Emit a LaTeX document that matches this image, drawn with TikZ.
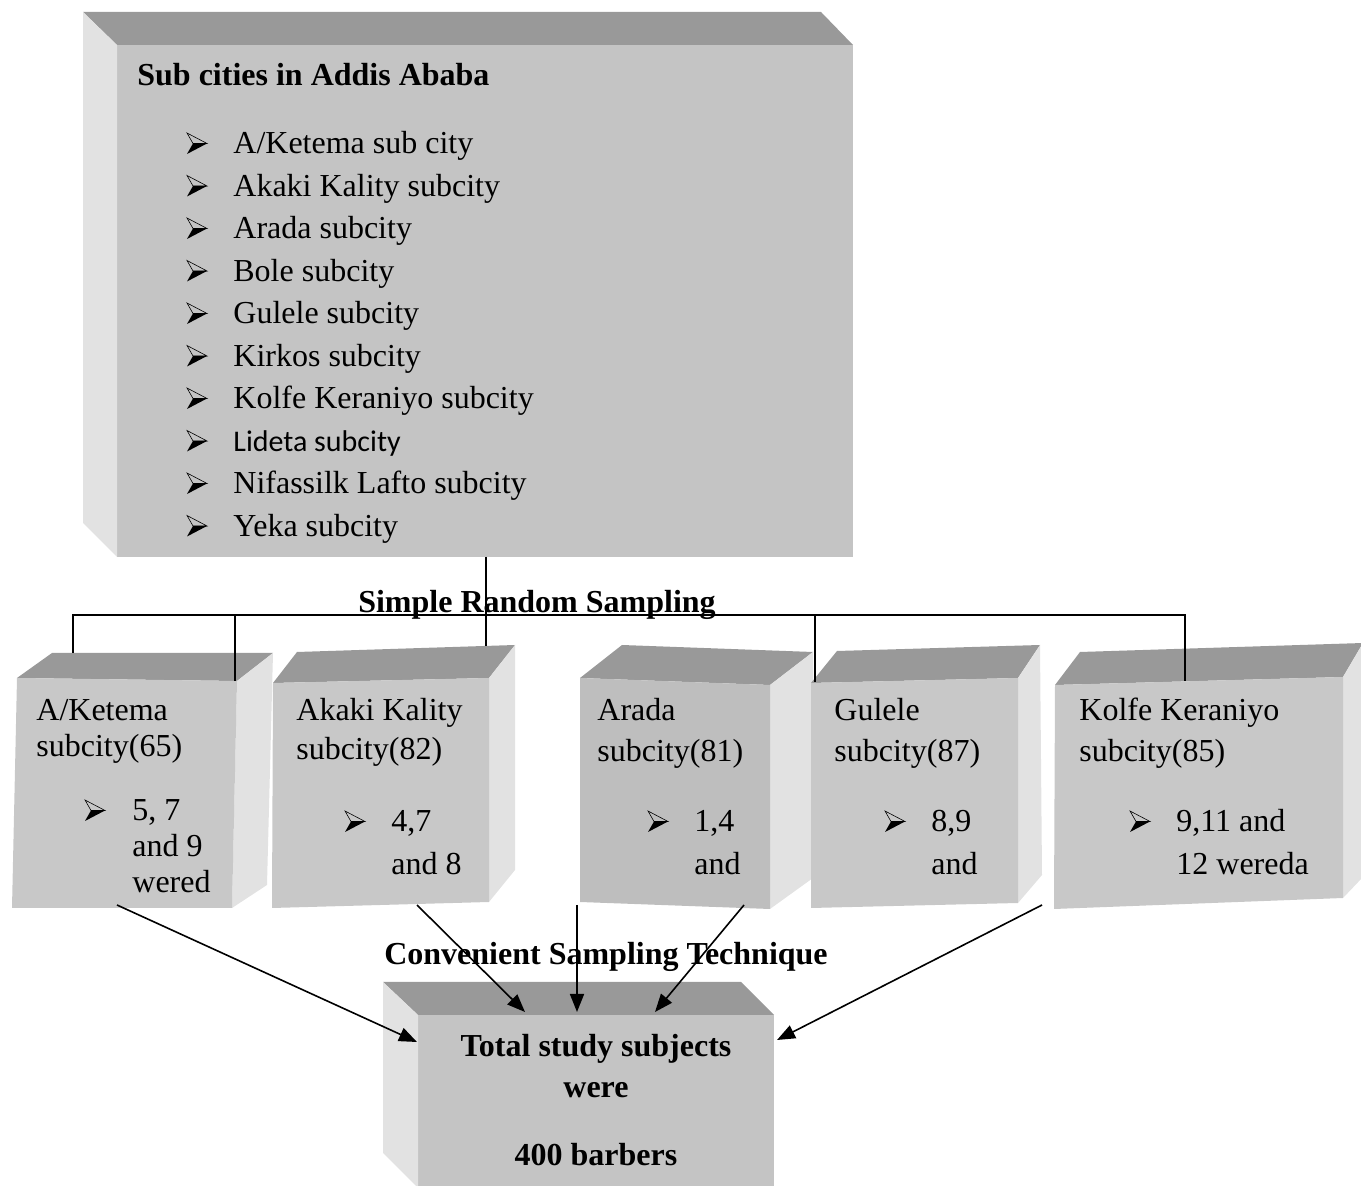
\documentclass[tikz,border=0pt]{standalone}
\usepackage{fontspec}
\setmainfont{Liberation Serif}
\newfontfamily\lidfont{Carlito}
\usetikzlibrary{arrows.meta}

\definecolor{bevtop}{HTML}{999999}
\definecolor{bevside}{HTML}{E2E2E2}
\definecolor{facegray}{HTML}{C4C4C4}
\definecolor{facelt}{HTML}{C8C8C8}
\definecolor{facedk}{HTML}{BEBEBE}

% small sampled box, bevel to the right
% #1 name, #2 colour, #3-#6 front corners nw ne se sw, #7-#9 back w e s
\newcommand\cityblock[9]{%
  \coordinate (#1-nw) at (#3);
  \coordinate (#1-ne) at (#4);
  \coordinate (#1-se) at (#5);
  \coordinate (#1-sw) at (#6);
  \fill[bevtop] (#1-nw) -- (#7) -- (#8) -- (#1-ne) -- cycle;
  \fill[bevside] (#1-ne) -- (#8) -- (#9) -- (#1-se) -- cycle;
  \fill[#2] (#1-nw) -- (#1-ne) -- (#1-se) -- (#1-sw) -- cycle;
}

\tikzset{
  txt/.style={anchor=base west, inner sep=0pt, font=\fontsize{16}{19}\selectfont},
  head/.style={anchor=base, inner sep=0pt, font=\fontsize{16}{19}\selectfont\bfseries},
  frontface/.style={fill=facegray, inner sep=0pt, outer sep=0pt, anchor=north west},
  link/.style={line width=0.8pt},
  flow/.style={line width=0.8pt, -{Triangle[length=9pt, width=7pt]}},
  arrowbullet/.pic={
    \draw[line width=0.3pt, line join=miter] (0,-21) -- (6,-10.5) -- (20,-10.5) -- cycle;
    \fill (6,-10.5) -- (20,-10.5) -- (0,0) -- cycle;
  }
}

\begin{document}
\begin{tikzpicture}[x=0.5pt, y=-0.5pt]
\useasboundingbox (0,0) rectangle (1361,1186);

% sub cities in Addis Ababa
\node[frontface, minimum width=368pt, minimum height=256pt] (subs) at (117,45) {};
\fill[bevtop] (subs.north west) -- ++(-34,-33) -- ++(738,0) -- (subs.north east) -- cycle;
\fill[bevside] (subs.north west) -- ++(-34,-33) -- ++(0,511) -- (subs.south west) -- cycle;
\node[txt, font=\fontsize{16}{19}\selectfont\bfseries] (title) at (137,86) {Sub cities in Addis Ababa};
\foreach \item [count=\i from 0] in {A/Ketema sub city, Akaki Kality subcity, Arada subcity,
    Bole subcity, Gulele subcity, Kirkos subcity, Kolfe Keraniyo subcity,
    {\lidfont\fontsize{15}{18}\selectfont Lideta subcity}, Nifassilk Lafto subcity, Yeka subcity}{
  \pic at (187,154+42.5*\i) {arrowbullet};
  \node[txt] (sc\i) at (233,154+42.5*\i) {\item};
}

% the five sampled sub cities
\cityblock{ket}{facelt}{17,678}{237,681}{232,908}{12,908}{52,653}{273,653}{267,885}
\cityblock{aka}{facelt}{273,683}{489,678}{489,902}{272,908}{297,652}{515,645}{515,870}
\cityblock{ara}{facedk}{580,678}{770,685}{770,909}{580,902}{622,645}{813,652}{813,878}
\cityblock{gul}{facelt}{811,683}{1018,678}{1018,903}{811,908}{837,651}{1040,645}{1042,875}
\cityblock{kol}{facelt}{1055,685}{1343,677}{1343,898}{1054,909}{1080,652}{1363,643}{1363,877}

\node[txt] (ket1) at (36,721) {A/Ketema};
\node[txt] (ket2) at (36,757) {subcity(65)};
\pic at (85,821) {arrowbullet};
\node[txt] (ket3) at (132,821) {5, 7};
\node[txt] (ket4) at (132,857) {and 9};
\node[txt] (ket5) at (132,893) {wered};

\node[txt] (aka1) at (296,721) {Akaki Kality};
\node[txt] (aka2) at (296,760) {subcity(82)};
\pic at (345,832) {arrowbullet};
\node[txt] (aka3) at (391,832) {4,7};
\node[txt] (aka4) at (391,875) {and 8};

\node[txt] (ara1) at (597,721) {Arada};
\node[txt] (ara2) at (597,762) {subcity(81)};
\pic at (648,832) {arrowbullet};
\node[txt] (ara3) at (694,832) {1,4};
\node[txt] (ara4) at (694,875) {and};

\node[txt] (gul1) at (834,721) {Gulele};
\node[txt] (gul2) at (834,762) {subcity(87)};
\pic at (885,832) {arrowbullet};
\node[txt] (gul3) at (931,832) {8,9};
\node[txt] (gul4) at (931,875) {and};

\node[txt] (kol1) at (1079,721) {Kolfe Keraniyo};
\node[txt] (kol2) at (1079,762) {subcity(85)};
\pic at (1130,832) {arrowbullet};
\node[txt] (kol3) at (1176,832) {9,11 and};
\node[txt] (kol4) at (1176,875) {12 wereda};

% simple random sampling bracket
\coordinate (rail) at (0,615);
\coordinate (ket-in1) at (73,653);
\coordinate (ket-in2) at (235,681);
\coordinate (aka-in) at (486,646);
\coordinate (gul-in) at (815,682);
\coordinate (kol-in) at (1185,681);
\draw[link] (ket-in1) -- (ket-in1 |- rail) -- (kol-in |- rail) -- (kol-in);
\draw[link] (ket-in2) -- (ket-in2 |- rail);
\draw[link] (gul-in) -- (gul-in |- rail);
\draw[link] (subs.south -| aka-in) -- (aka-in);
\node[head] (srs) at (537,613) {Simple Random Sampling};

% total study subjects
\node[frontface, minimum width=178pt, minimum height=86.5pt] (tot) at (418,1015) {};
\fill[bevtop] (tot.north west) -- ++(-35,-33) -- ++(358,0) -- (tot.north east) -- cycle;
\fill[bevside] (tot.north west) -- ++(-35,-33) -- ++(0,171) -- (tot.south west) -- cycle;
\node[head] (tot1) at (596,1057) {Total study subjects};
\node[head] (tot2) at (596,1097) {were};
\node[head] (tot3) at (596,1165) {400 barbers};

% convenient sampling arrows
\node[head] (cst) at (606,965) {Convenient Sampling Technique};
\coordinate (ket-out) at (117,905);
\coordinate (aka-out) at (417,905);
\coordinate (ara-out1) at (577,905);
\coordinate (ara-out2) at (744,905);
\coordinate (kol-out) at (1042,905);
\coordinate (tot-w) at (417,1042);
\coordinate (tot-n1) at (525,1012);
\coordinate (tot-n2) at (577,1012);
\coordinate (tot-n3) at (655,1012);
\coordinate (tot-e) at (777,1040);
\draw[flow] (ket-out) -- (tot-w);
\draw[flow] (aka-out) -- (tot-n1);
\draw[flow] (ara-out1) -- (tot-n2);
\draw[flow] (ara-out2) -- (tot-n3);
\draw[flow] (kol-out) -- (tot-e);
\end{tikzpicture}
\end{document}
